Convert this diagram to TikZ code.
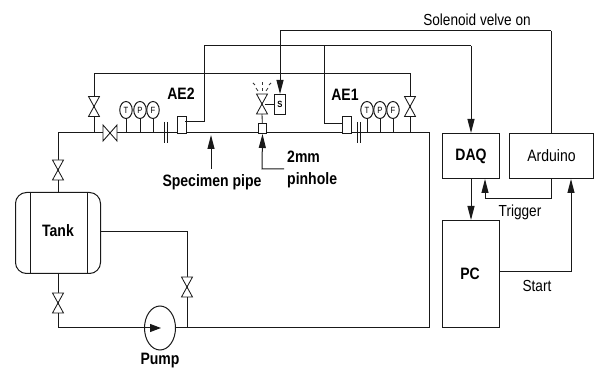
\documentclass[tikz,border=0pt]{standalone}
\usepackage{fontspec}
\setmainfont[FakeStretch=.85]{Liberation Sans}
\usetikzlibrary{arrows.meta,calc,shapes.geometric}
\tikzset{
 x=1pt,y=-1pt,
 line/.style={draw=black!90,line width=1pt},
 thin line/.style={draw=black!90,line width=.85pt},
 head/.style={-{Triangle[length=14pt,width=7pt]}},
 box/.style={draw=black!90,line width=1pt,fill=white,inner sep=0pt,anchor=north west},
 lab/.style={font=\fontsize{16}{16}\selectfont,inner sep=0pt},
 blab/.style={font=\fontsize{16.5}{17}\selectfont\bfseries,inner sep=0pt},
 vvalve/.pic={\draw[thin line,fill=white] (-5.5,-10)--(5.5,-10)--(-5.5,10)--(5.5,10)--cycle;},
 hvalve/.pic={\draw[thin line,fill=white] (-7,-8)--(7,8)--(7,-8)--(-7,8)--cycle;},
 gauge/.style={draw=black!90,line width=1pt,fill=white,ellipse,minimum width=12.5pt,minimum height=17pt,inner sep=0pt,font=\fontsize{9}{9}\selectfont},
}
\begin{document}
\begin{tikzpicture}
\useasboundingbox (0,0) rectangle (595,371);
% tank
\node[box,minimum width=85pt,minimum height=81pt,rounded corners=11pt] (tank) at (15,192) {};
\draw[line] (30,192)--(30,273) (87,192)--(87,273);
\node[blab] at (58,231) {Tank};
% junction coordinates
\coordinate (tt) at (58,192);
\coordinate (tb) at (58,273);
\coordinate (tl) at (58,133);
\coordinate (bl) at (58,328);
\coordinate (br) at (429,328);
\coordinate (pr) at (429,133);
\coordinate (tankout) at (100,232);
\coordinate (ob) at (187,232);
\coordinate (oj) at (187,328);
\coordinate (lp) at (94,133);
\coordinate (lt) at (94,74);
\coordinate (rt) at (410,74);
\coordinate (rp) at (410,133);
% pipes
\draw[line] (tt)--(tl)--(pr)--(br)--(bl)--(tb);
\draw[line] (tankout)--(ob)--(oj);
\draw[line] (lp)--(lt)--(rt)--(rp);
% valves
\pic at (58,170) {vvalve};
\pic at (58,303) {vvalve};
\pic at (187,287) {vvalve};
\pic at (94,106.5) {vvalve};
\pic at (410,106.5) {vvalve};
\pic at (110,133) {hvalve};
% pump
\node[draw=black!90,line width=1pt,fill=white,ellipse,minimum width=31pt,minimum height=44pt,inner sep=0pt] (pump) at (160,328) {};
\coordinate (pa) at (144,328);
\coordinate (pb) at (161,328);
\draw[line,-{Triangle[length=11pt,width=8pt]}] (pa)--(pb);
\node[blab] at (160,361) {Pump};
% gauges
\foreach \n/\x/\t in {a/126/T,b/140/P,c/153/F,d/367/T,e/380/P,f/393/F}{
 \node[gauge] (g\n) at (\x,110) {\t};
 \coordinate (s\n) at (\x,133);
 \draw[thin line] (g\n)--(s\n);
}
% flange breaks
\foreach \x in {164,167,357,360}{\draw[thin line] (\x,122)--(\x,143);}
% AE sensors
\node[box,minimum width=8.5pt,minimum height=17pt] (ae2) at (177,116) {};
\node[box,minimum width=9pt,minimum height=17pt] (ae1) at (342,116) {};
\node[blab] at (181,94) {AE2};
\node[blab] at (345,95) {AE1};
% centre valve
\node[box,minimum width=8pt,minimum height=10pt] (hole) at (258,123) {};
\pic at (262,104) {vvalve};
\coordinate (vt) at (262,114);
\draw[thin line] (vt)--(hole);
\node[box,minimum width=11pt,minimum height=20pt] (sol) at (274,94) {};
\node[font=\fontsize{9}{9}\selectfont\bfseries,inner sep=0pt] at (sol.center) {S};
\coordinate (vc) at (265,104);
\draw[thin line] (vc)--(sol.west |- vc);
\foreach \a/\b/\c/\d in {262/91/262/88, 262/85/262/82, 258/91/256/88, 266/91/268/88, 255/85/253/83, 269/85/271/83}{
 \draw[draw=black!80,line width=.8pt] (\a,\b)--(\c,\d);
}
% boxes
\node[box,minimum width=57pt,minimum height=45pt] (daq) at (442,133) {};
\node[blab] at (daq.center) {DAQ};
\node[box,minimum width=84pt,minimum height=45pt] (ard) at (509,133) {};
\node[inner sep=0pt,font=\fontsize{16.5}{17}\selectfont] at (ard.center) {Arduino};
\node[box,minimum width=57pt,minimum height=107pt] (pc) at (442,220) {};
\node[blab] at (470,274) {PC};
% signal lines
\coordinate (e2) at (185,122);
\coordinate (e2c) at (204,122);
\coordinate (e2t) at (204,46);
\coordinate (e1) at (342,124);
\coordinate (e1c) at (324,124);
\coordinate (e1t) at (324,46);
\coordinate (dt) at (471,46);
\draw[line] (e2)--(e2c)--(e2t)--(dt);
\draw[line] (e1)--(e1c)--(e1t);
\draw[line,head] (dt)--(daq.north -| dt);
\coordinate (st) at (280,31);
\coordinate (at) at (551,31);
\draw[line,head] (at)--(st)--(sol.north -| st);
\draw[line] (at)--(ard.north -| at);
\draw[line,head] (daq.south)--(pc.north);
\coordinate (trb) at (551,199);
\coordinate (trl) at (485,199);
\draw[line,head] (ard.south -| trb)--(trb)--(trl)--(daq.south -| trl);
\coordinate (sr) at (571,272);
\draw[line,head] (pc.east |- sr)--(sr)--(ard.south -| sr);
% specimen / pinhole arrows
\coordinate (spb) at (211,169);
\coordinate (spt) at (211,135);
\draw[line,head] (spb)--(spt);
\coordinate (phr) at (284,169);
\coordinate (phc) at (262,169);
\draw[line,head] (phr)--(phc)--(hole.south);
% labels
\node[blab] at (212,182) {Specimen pipe};
\node[blab,anchor=west] at (287,157) {2mm};
\node[blab,anchor=west] at (287,180) {pinhole};
\node[lab] at (477,20) {Solenoid velve on};
\node[lab] at (520,212) {Trigger};
\node[lab] at (537,286) {Start};
\end{tikzpicture}
\end{document}
